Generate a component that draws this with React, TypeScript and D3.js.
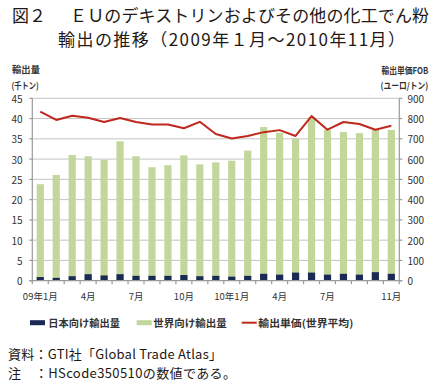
import { useEffect, useRef } from "react";
import * as d3 from "d3";

// 2009年1月〜2010年11月 (23か月)
const meses = [
  "2009-01", "2009-02", "2009-03", "2009-04", "2009-05", "2009-06",
  "2009-07", "2009-08", "2009-09", "2009-10", "2009-11", "2009-12",
  "2010-01", "2010-02", "2010-03", "2010-04", "2010-05", "2010-06",
  "2010-07", "2010-08", "2010-09", "2010-10", "2010-11",
];

// 日本向け輸出量（千トン）
const japon = [0.9, 0.7, 1.1, 1.6, 1.3, 1.6, 1.2, 1.2, 1.2, 1.4, 1.1, 1.2, 1.0, 1.2, 1.7, 1.5, 2.0, 2.0, 1.5, 1.7, 1.5, 2.1, 1.7];

// 世界向け輸出量（千トン）
const mundo = [23.8, 26.1, 31.0, 30.7, 29.8, 34.4, 30.7, 28.0, 28.5, 30.9, 28.7, 29.2, 29.6, 32.1, 37.9, 36.5, 35.1, 40.3, 37.2, 36.7, 36.4, 37.2, 37.2];

// 輸出単価（ユーロ／トン）
const precio = [834, 793, 814, 804, 783, 803, 783, 771, 771, 752, 784, 724, 702, 714, 733, 743, 714, 812, 745, 783, 773, 745, 765];

// x軸ラベル
const etiquetasX: [string, string][] = [
  ["2009-01", "09年1月"],
  ["2009-04", "4月"],
  ["2009-07", "7月"],
  ["2009-10", "10月"],
  ["2010-01", "10年1月"],
  ["2010-04", "4月"],
  ["2010-07", "7月"],
  ["2010-11", "11月"],
];

const ticksIzq = [0, 5, 10, 15, 20, 25, 30, 35, 40, 45];
const ticksDer = [0, 100, 200, 300, 400, 500, 600, 700, 800, 900];

const leyenda = ["日本向け輸出量", "世界向け輸出量", "輸出単価(世界平均)"];

const FUENTE = "'Noto Sans CJK JP', 'Noto Sans', sans-serif";
const ANCHO = 437;
const ALTO = 387;

export default function App() {
  const svgRef = useRef<SVGSVGElement>(null);

  useEffect(() => {
    if (!svgRef.current) return;
    const svg = d3.select(svgRef.current);
    svg.selectAll("*").remove();

    svg.append("rect").attr("width", ANCHO).attr("height", ALTO).attr("fill", "#fff");

    const izq = 32.3;
    const der = 399.3;
    const arriba = 98.3;
    const abajo = 280.7;

    const x = d3.scaleBand().domain(meses).range([izq, der]).paddingInner(0.55).paddingOuter(0.275);
    const y = d3.scaleLinear().domain([0, 45]).range([abajo, arriba]);
    const y2 = d3.scaleLinear().domain([0, 900]).range([abajo, arriba]);
    const paso = x.step();
    const centro = (m: string) => (x(m) || 0) + x.bandwidth() / 2;

    // título
    const titulo = svg.append("g").attr("font-family", FUENTE).attr("fill", "#231815").attr("font-size", 17);
    titulo.append("text").attr("x", 12).attr("y", 14.5).attr("dominant-baseline", "central").text("図２");
    titulo
      .append("text")
      .attr("x", 70)
      .attr("y", 14.5)
      .attr("dominant-baseline", "central")
      .attr("textLength", 359)
      .attr("lengthAdjust", "spacing")
      .text("ＥＵのデキストリンおよびその他の化工でん粉");
    titulo
      .append("text")
      .attr("x", 58)
      .attr("y", 38)
      .attr("dominant-baseline", "central")
      .attr("textLength", 347)
      .attr("lengthAdjust", "spacing")
      .text("輸出の推移（2009年１月～2010年11月）");

    // cuadrícula
    svg
      .append("g")
      .selectAll("line")
      .data(ticksIzq.slice(1))
      .enter()
      .append("line")
      .attr("x1", izq)
      .attr("x2", der)
      .attr("y1", (d) => y(d))
      .attr("y2", (d) => y(d))
      .attr("stroke", "#c4c4c4")
      .attr("stroke-width", 1);

    // barras
    const barras = svg.append("g");
    barras
      .selectAll("rect.mundo")
      .data(mundo)
      .enter()
      .append("rect")
      .attr("x", (_, i) => x(meses[i]) || 0)
      .attr("y", (d) => y(d))
      .attr("width", x.bandwidth())
      .attr("height", (d) => abajo - y(d))
      .attr("fill", "#c3d69b");
    barras
      .selectAll("rect.japon")
      .data(japon)
      .enter()
      .append("rect")
      .attr("x", (_, i) => x(meses[i]) || 0)
      .attr("y", (d) => y(d))
      .attr("width", x.bandwidth())
      .attr("height", (d) => abajo - y(d))
      .attr("fill", "#1b2a55");

    // ejes
    const ejes = svg.append("g").attr("stroke", "#9a9a9a").attr("stroke-width", 1.2);
    ejes.append("line").attr("x1", izq).attr("x2", izq).attr("y1", arriba).attr("y2", abajo);
    ejes.append("line").attr("x1", der).attr("x2", der).attr("y1", arriba).attr("y2", abajo);
    ejes.append("line").attr("x1", izq - 3).attr("x2", der + 3).attr("y1", abajo).attr("y2", abajo);
    ejes
      .selectAll("line.ti")
      .data(ticksIzq)
      .enter()
      .append("line")
      .attr("x1", izq - 3)
      .attr("x2", izq)
      .attr("y1", (d) => y(d))
      .attr("y2", (d) => y(d));
    ejes
      .selectAll("line.td")
      .data(ticksDer)
      .enter()
      .append("line")
      .attr("x1", der)
      .attr("x2", der + 3)
      .attr("y1", (d) => y2(d))
      .attr("y2", (d) => y2(d));
    ejes
      .selectAll("line.tx")
      .data(d3.range(meses.length + 1))
      .enter()
      .append("line")
      .attr("x1", (i) => izq + i * paso)
      .attr("x2", (i) => izq + i * paso)
      .attr("y1", abajo)
      .attr("y2", abajo + 3.5);

    // línea de precio
    const linea = d3
      .line<number>()
      .x((_, i) => centro(meses[i]))
      .y((d) => y2(d));
    svg
      .append("path")
      .datum(precio)
      .attr("d", linea)
      .attr("fill", "none")
      .attr("stroke", "#c1281d")
      .attr("stroke-width", 2)
      .attr("stroke-linejoin", "round");

    // etiquetas de ejes
    const texto = svg.append("g").attr("font-family", FUENTE).attr("fill", "#333").attr("font-size", 10);
    texto
      .selectAll("text.ti")
      .data(ticksIzq)
      .enter()
      .append("text")
      .attr("x", 22.5)
      .attr("y", (d) => y(d))
      .attr("text-anchor", "end")
      .attr("dominant-baseline", "central")
      .text((d) => d);
    texto
      .selectAll("text.td")
      .data(ticksDer)
      .enter()
      .append("text")
      .attr("x", 407.5)
      .attr("y", (d) => y2(d))
      .attr("dominant-baseline", "central")
      .text((d) => d);
    texto
      .selectAll("text.tx")
      .data(etiquetasX)
      .enter()
      .append("text")
      .attr("x", (d) => centro(d[0]))
      .attr("y", 296)
      .attr("text-anchor", "middle")
      .attr("dominant-baseline", "central")
      .attr("font-size", 9.5)
      .text((d) => d[1]);

    // títulos de ejes (letra estrecha: se comprime con scale)
    const tituloEje = (txt: string, xIzq: number, yc: number, ancho: number, natural: number) => {
      svg
        .append("g")
        .attr("transform", `translate(${xIzq},${yc}) scale(${ancho / natural},1)`)
        .append("text")
        .attr("font-family", FUENTE)
        .attr("font-size", 9)
        .attr("font-weight", "bold")
        .attr("fill", "#333")
        .attr("dominant-baseline", "central")
        .text(txt);
    };
    tituloEje("輸出量", 12, 69.5, 28, 27);
    tituloEje("(千トン)", 11.5, 84.7, 29, 36);
    tituloEje("輸出単価FOB", 381.5, 69.5, 45, 52);
    tituloEje("(ユーロ/トン)", 380.5, 84.7, 45, 52);

    // leyenda
    const yLey = 322.7;
    const ley = svg.append("g").attr("font-family", FUENTE).attr("fill", "#333").attr("font-size", 10).attr("font-weight", "bold");
    ley.append("rect").attr("x", 30).attr("y", yLey - 2.5).attr("width", 15).attr("height", 5).attr("fill", "#1b2a55");
    ley.append("rect").attr("x", 136.7).attr("y", yLey - 2.5).attr("width", 15).attr("height", 5).attr("fill", "#c3d69b");
    ley
      .append("line")
      .attr("x1", 241.7)
      .attr("x2", 256.7)
      .attr("y1", yLey)
      .attr("y2", yLey)
      .attr("stroke", "#c1281d")
      .attr("stroke-width", 2);
    const posLey = [48.3, 153.3, 258.3];
    const largoLey = [71.7, 73.4, 95];
    ley
      .selectAll("text")
      .data(leyenda)
      .enter()
      .append("text")
      .attr("x", (_, i) => posLey[i])
      .attr("y", yLey)
      .attr("dominant-baseline", "central")
      .attr("textLength", (_, i) => largoLey[i])
      .attr("lengthAdjust", "spacingAndGlyphs")
      .text((d) => d);

    // notas
    const notas = svg.append("g").attr("font-family", FUENTE).attr("fill", "#231815").attr("font-size", 13);
    notas
      .append("text")
      .attr("x", 8)
      .attr("y", 353)
      .attr("dominant-baseline", "central")
      .attr("textLength", 214)
      .attr("lengthAdjust", "spacing")
      .text("資料：GTI社「Global Trade Atlas」");
    notas
      .append("text")
      .attr("x", 8)
      .attr("y", 372.7)
      .attr("dominant-baseline", "central")
      .attr("textLength", 228)
      .attr("lengthAdjust", "spacing")
      .text("注　：HScode350510の数値である。");
  }, []);

  return (
    <div style={{ position: "absolute", left: 0, top: 0 }}>
      <svg ref={svgRef} width={ANCHO} height={ALTO} viewBox={`0 0 ${ANCHO} ${ALTO}`} style={{ display: "block" }} />
    </div>
  );
}
